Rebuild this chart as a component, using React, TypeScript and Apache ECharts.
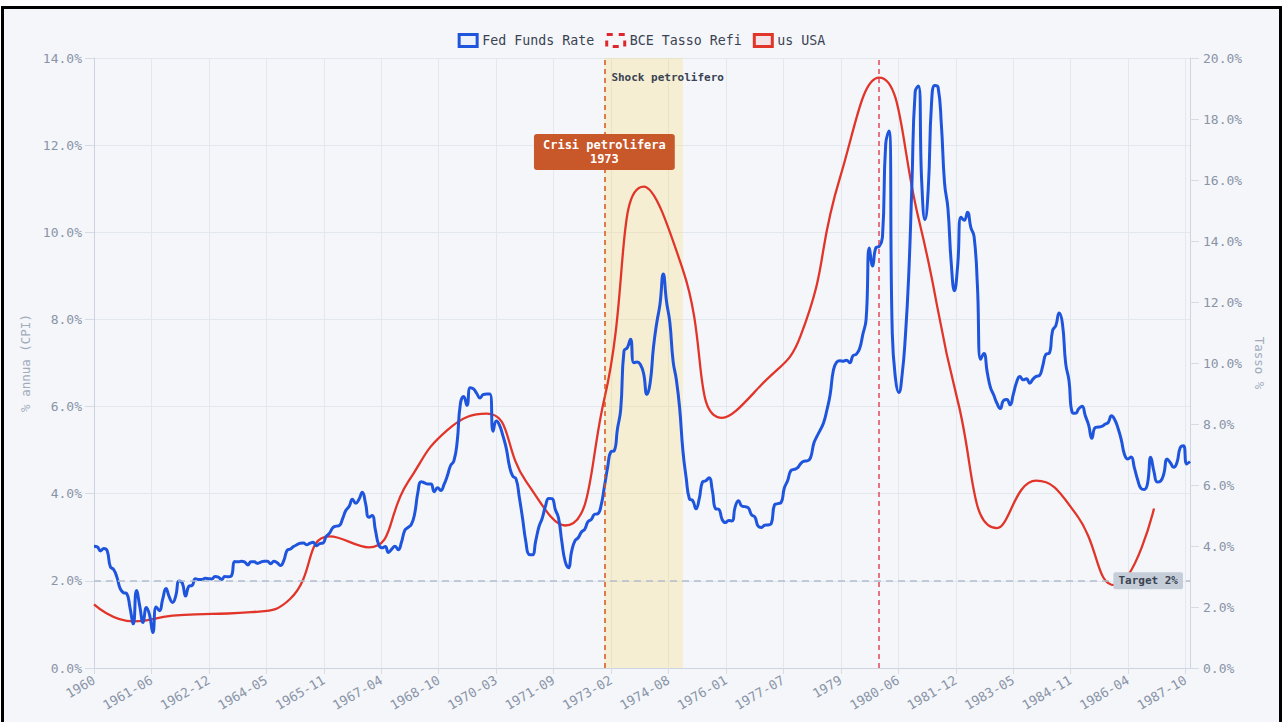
import React, { useEffect, useRef } from 'react';
import * as echarts from 'echarts';

// ---- Data ----
const xTickLabels = [
  '1960', '1961-06', '1962-12', '1964-05', '1965-11', '1967-04', '1968-10', '1970-03', '1971-09', '1973-02',
  '1974-08', '1976-01', '1977-07', '1979', '1980-06', '1981-12', '1983-05', '1984-11', '1986-04', '1987-10',
];
const xStart = '1960-01';
const xEnd = '1987-12';
const xTickStepMonths = 17.56;

// Fed Funds effective rate, monthly (%)
const fedFunds1960s = [
  3.99, 3.97, 3.84, 3.92, 3.85, 3.32, 3.23, 2.98, 2.6, 2.47, 2.44, 1.98,
  1.45, 2.54, 2.02, 1.49, 1.98, 1.73, 1.16, 2.0, 1.88, 2.26, 2.61, 2.33,
  2.15, 2.37, 2.85, 2.78, 2.36, 2.68, 2.71, 2.93, 2.9, 2.9, 2.94, 2.93,
  2.92, 3.0, 2.98, 2.9, 3.0, 2.99, 3.02, 3.49, 3.48, 3.5, 3.48, 3.38,
  3.48, 3.48, 3.43, 3.47, 3.5, 3.5, 3.42, 3.5, 3.45, 3.36, 3.52, 3.85,
  3.9, 3.98, 4.04, 4.09, 4.1, 4.04, 4.09, 4.12, 4.01, 4.08, 4.1, 4.32,
  4.42, 4.6, 4.65, 4.67, 4.9, 5.17, 5.3, 5.53, 5.4, 5.53, 5.76, 5.4,
  4.94, 5.0, 4.53, 4.05, 3.94, 3.98, 3.79, 3.9, 3.99, 3.88, 4.13, 4.51,
  4.61, 4.71, 5.05, 5.76, 6.11, 6.07, 6.03, 6.03, 5.78, 5.91, 5.82, 6.02,
  6.3, 6.64, 6.79, 7.41, 8.67, 8.9, 8.61, 9.19, 9.15, 9.0, 8.85, 8.97,
];
const fedFunds1970s = [
  8.98, 8.98, 7.76, 8.1, 7.95, 7.61, 7.21, 6.61, 6.29, 6.2, 5.6, 4.9,
  4.14, 3.72, 3.71, 4.16, 4.63, 4.91, 5.31, 5.56, 5.55, 5.2, 4.91, 4.14,
  3.5, 3.29, 3.83, 4.17, 4.27, 4.46, 4.55, 4.8, 4.87, 5.04, 5.06, 5.33,
  5.94, 6.58, 7.09, 7.12, 7.84, 8.49, 10.4, 10.5, 10.78, 10.01, 10.03, 9.95,
  9.65, 8.97, 9.35, 10.51, 11.31, 11.93, 12.92, 12.01, 11.34, 10.06, 9.45, 8.53,
  7.13, 6.24, 5.54, 5.49, 5.22, 5.55, 6.1, 6.14, 6.24, 5.82, 5.22, 5.2,
  4.87, 4.77, 4.84, 4.82, 5.29, 5.48, 5.31, 5.29, 5.25, 5.02, 4.95, 4.65,
  4.61, 4.68, 4.69, 4.73, 5.35, 5.39, 5.42, 5.9, 6.14, 6.47, 6.51, 6.56,
  6.7, 6.78, 6.79, 6.89, 7.36, 7.6, 7.81, 8.04, 8.45, 8.96, 9.76, 10.03,
  10.07, 10.06, 10.09, 10.01, 10.24, 10.29, 10.47, 10.94, 11.43, 13.77, 13.18, 13.78,
];
const fedFunds1980s = [
  13.82, 14.13, 17.19, 17.61, 10.98, 9.47, 9.03, 9.61, 10.87, 12.81, 15.85, 18.9,
  19.08, 15.93, 14.7, 15.72, 18.52, 19.1, 19.04, 17.82, 15.87, 15.08, 13.31, 12.37,
  13.22, 14.78, 14.68, 14.94, 14.45, 14.15, 12.59, 10.12, 10.31, 9.71, 9.2, 8.95,
  8.68, 8.51, 8.77, 8.8, 8.63, 8.98, 9.37, 9.56, 9.45, 9.48, 9.34, 9.47,
  9.56, 9.59, 9.91, 10.29, 10.32, 11.06, 11.23, 11.64, 11.3, 9.99, 9.43, 8.38,
  8.35, 8.5, 8.58, 8.27, 7.97, 7.53, 7.88, 7.9, 7.92, 7.99, 8.05, 8.27,
  8.14, 7.86, 7.48, 6.99, 6.85, 6.92, 6.56, 6.17, 5.89, 5.85, 6.04, 6.91,
  6.43, 6.1, 6.13, 6.37, 6.85, 6.73, 6.58, 6.73, 7.22, 7.29, 6.69, 6.77,
];

// US CPI inflation, annual (%)
const usCpiYears = [
  1960, 1961, 1962, 1963, 1964, 1965, 1966, 1967, 1968, 1969, 1970, 1971, 1972, 1973,
  1974, 1975, 1976, 1977, 1978, 1979, 1980, 1981, 1982, 1983, 1984, 1985, 1986, 1987,
];
const usCpiValues = [
  1.46, 1.07, 1.2, 1.24, 1.28, 1.59, 3.02, 2.77, 4.27, 5.46, 5.84, 4.29, 3.27, 6.18,
  11.05, 9.14, 5.74, 6.5, 7.63, 11.25, 13.55, 10.33, 6.13, 3.21, 4.3, 3.55, 1.9, 3.66,
];

// ECB refi rate: not yet existing in this period
const bceRefiValues: number[] = [];

const inflationTarget = 2;
const oilCrisisPeriod = ['1973-01', '1975-01'];
const oilShockDate = '1973-01';
const secondEventDate = '1980-01';
const shockLabelLevel = 13.55;
const crisisBoxLevel = 11.84;

// ---- Helpers ----
const monthIndex = (ym: string) => {
  const [y, m] = ym.split('-').map(Number);
  return (y - 1960) * 12 + (m - 1);
};
const X_MIN = monthIndex(xStart);
const X_MAX = monthIndex(xEnd);

const FONT = '"DejaVu Sans Mono", monospace';
const BLUE = '#1f55dd';
const RED = '#e2352a';
const AXIS_TEXT = '#8a94a7';
const GRID_LINE = '#e3e7ee';
const AXIS_LINE = '#cdd4df';

const fedAll = [...fedFunds1960s, ...fedFunds1970s, ...fedFunds1980s];
const fedData = fedAll.map((v, i) => [i, v]);
const cpiData = usCpiYears.map((y, i) => [(y - 1960) * 12, usCpiValues[i]]);

const xFormatter = (v: number) => {
  const i = Math.round(v / xTickStepMonths);
  if (Math.abs(v - i * xTickStepMonths) > 0.05) return '';
  return xTickLabels[i] ?? '';
};
const pctFormatter = (v: number) => v.toFixed(1) + '%';

const option: any = {
  animation: false,
  backgroundColor: 'transparent',
  textStyle: { fontFamily: FONT },
  legend: {
    top: 19,
    left: 'center',
    icon: 'rect',
    itemWidth: 18,
    itemHeight: 12,
    itemGap: 11,
    textStyle: { fontFamily: FONT, fontSize: 13.3, color: '#3b4352' },
    data: [
      { name: 'Fed Funds Rate', itemStyle: { color: '#edf1fb', borderColor: BLUE, borderWidth: 3 } },
      { name: 'BCE Tasso Refi', itemStyle: { color: '#f4f6fa', borderColor: '#e0262d', borderWidth: 3, borderType: [6, 6] } },
      { name: 'us USA', itemStyle: { color: '#f3e3e6', borderColor: RED, borderWidth: 3 } },
    ],
  },
  grid: { left: 90, top: 49, width: 1096, height: 610 },
  xAxis: {
    type: 'value',
    min: X_MIN,
    max: X_MAX,
    interval: xTickStepMonths,
    axisLine: { show: true, lineStyle: { color: AXIS_LINE } },
    axisTick: { show: true, length: 6, lineStyle: { color: '#d6dce5' } },
    axisLabel: {
      rotate: 30,
      fontSize: 13,
      color: AXIS_TEXT,
      fontFamily: FONT,
      margin: 11,
      showMaxLabel: false,
      formatter: xFormatter,
    },
    splitLine: { show: true, lineStyle: { color: GRID_LINE } },
  },
  yAxis: [
    {
      type: 'value',
      position: 'left',
      min: 0,
      max: 14,
      interval: 2,
      name: '% annua (CPI)',
      nameLocation: 'middle',
      nameGap: 57,
      nameTextStyle: { color: '#a3abba', fontSize: 12.5, fontFamily: FONT },
      axisLine: { show: true, lineStyle: { color: AXIS_LINE } },
      axisTick: { show: true, length: 9, lineStyle: { color: '#d6dce5' } },
      axisLabel: { formatter: pctFormatter, color: AXIS_TEXT, fontSize: 13, fontFamily: FONT, margin: 12 },
      splitLine: { show: true, lineStyle: { color: GRID_LINE } },
    },
    {
      type: 'value',
      position: 'right',
      min: 0,
      max: 20,
      interval: 2,
      name: 'Tasso %',
      nameLocation: 'middle',
      nameGap: 62,
      nameRotate: -90,
      nameTextStyle: { color: '#a3abba', fontSize: 12.5, fontFamily: FONT },
      axisLine: { show: true, lineStyle: { color: AXIS_LINE } },
      axisTick: { show: true, length: 9, lineStyle: { color: '#d6dce5' } },
      axisLabel: { formatter: pctFormatter, color: AXIS_TEXT, fontSize: 13, fontFamily: FONT, margin: 13 },
      splitLine: { show: false },
    },
  ],
  series: [
    {
      name: 'Fed Funds Rate',
      type: 'line',
      yAxisIndex: 1,
      data: fedData,
      smooth: true,
      symbol: 'none',
      lineStyle: { color: BLUE, width: 3 },
      itemStyle: { color: BLUE },
      z: 4,
    },
    {
      name: 'BCE Tasso Refi',
      type: 'line',
      yAxisIndex: 1,
      data: bceRefiValues,
      symbol: 'none',
      lineStyle: { color: '#e0262d', width: 2, type: 'dashed' },
      itemStyle: { color: '#e0262d' },
    },
    {
      name: 'us USA',
      type: 'line',
      yAxisIndex: 0,
      data: cpiData,
      smooth: true,
      symbol: 'none',
      lineStyle: { color: RED, width: 2.3 },
      itemStyle: { color: RED },
      z: 3,
      markArea: {
        silent: true,
        itemStyle: { color: 'rgba(248, 218, 118, 0.3)' },
        data: [[{ xAxis: monthIndex(oilCrisisPeriod[0]) }, { xAxis: monthIndex(oilCrisisPeriod[1]) }]],
      },
      markLine: {
        silent: true,
        symbol: 'none',
        data: [
          {
            yAxis: inflationTarget,
            lineStyle: { color: '#b3bdcd', type: [7, 5], width: 1.5 },
            label: {
              show: true,
              position: 'insideEndTop',
              distance: [7, 0],
              verticalAlign: 'middle',
              formatter: 'Target 2%',
              fontFamily: FONT,
              fontWeight: 'bold',
              fontSize: 11,
              color: '#3b4352',
              backgroundColor: '#c5cdd8',
              padding: [3, 5],
              borderRadius: 2,
            },
          },
          {
            xAxis: monthIndex(oilShockDate),
            lineStyle: { color: '#d9541e', type: [5, 4], width: 1.5 },
            label: { show: false },
          },
          {
            xAxis: monthIndex(secondEventDate),
            lineStyle: { color: '#e2475e', type: [5, 4], width: 1.5 },
            label: { show: false },
          },
        ],
      },
      markPoint: {
        silent: true,
        symbol: 'circle',
        symbolSize: 0,
        data: [
          {
            coord: [monthIndex(oilShockDate), shockLabelLevel],
            label: {
              show: true,
              position: 'right',
              distance: 7,
              formatter: 'Shock petrolifero',
              fontFamily: FONT,
              fontWeight: 'bold',
              fontSize: 11,
              color: '#3b4352',
            },
          },
          {
            coord: [monthIndex(oilShockDate), crisisBoxLevel],
            label: {
              show: true,
              position: 'inside',
              formatter: 'Crisi petrolifera\n1973',
              fontFamily: FONT,
              fontWeight: 'bold',
              fontSize: 12,
              lineHeight: 14,
              color: '#ffffff',
              align: 'center',
              backgroundColor: '#c8572a',
              padding: [4, 9],
              borderRadius: 3,
            },
          },
        ],
      },
    },
  ],
};

export default function App() {
  const ref = useRef<HTMLDivElement>(null);
  useEffect(() => {
    const chart = echarts.init(ref.current!, null, { renderer: 'svg' });
    chart.setOption(option);
    return () => chart.dispose();
  }, []);
  return (
    <div
      style={{
        position: 'fixed',
        left: 1,
        top: 6,
        width: 1281,
        height: 740,
        border: '3px solid #000',
        boxSizing: 'border-box',
        background: '#f4f6fa',
      }}
    >
      <div ref={ref} style={{ width: 1275, height: 734 }} />
    </div>
  );
}
